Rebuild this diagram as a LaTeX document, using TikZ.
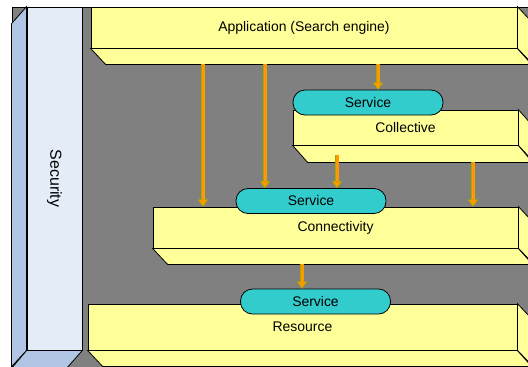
\documentclass[tikz,border=0pt]{standalone}
\usepackage{fontspec}
\setmainfont{Liberation Sans}
\usetikzlibrary{arrows.meta}

\definecolor{backgray}{HTML}{808080}
\definecolor{slabyellow}{HTML}{FFFF99}
\definecolor{serviceteal}{HTML}{33CCCC}
\definecolor{secfront}{HTML}{E4ECF8}
\definecolor{secside}{HTML}{B0C6E4}
\definecolor{feedorange}{HTML}{FF9900}
\definecolor{feededge}{HTML}{A8A800}

\tikzset{
  slab/.style={draw=black, line width=0.8bp, fill=slabyellow, inner sep=0pt},
  slabside/.style={draw=black, line width=0.8bp, fill=slabyellow},
  service/.style={draw=black, line width=0.8bp, fill=serviceteal, rounded corners=12bp,
    minimum width=150bp, minimum height=25bp, inner sep=0pt},
  feed/.style={draw=feedorange, line width=3bp,
    preaction={draw=feededge, line width=4.4bp},
    -{Triangle[length=7bp, width=10bp, fill=feedorange, color=feededge, line width=0.6bp]}}
}

\begin{document}
\begin{tikzpicture}[x=1bp, y=-1bp, font=\fontsize{14}{16}\selectfont]
  \useasboundingbox (0,0) rectangle (528,366);
  % grauer Hintergrund
  \filldraw[fill=backgray, draw=black, line width=0.8bp] (12,7) rectangle (540,380);

  % Security (Saeule links, Tiefe nach links unten)
  \node[draw=black, line width=0.8bp, fill=secfront, minimum width=55bp, minimum height=343bp,
    inner sep=0pt] (sec) at (54.5,178.5) {};
  \filldraw[fill=secside, draw=black, line width=0.8bp]
    (sec.north west) -- ++(-15,17) -- ++(0,343) -- (sec.south west) -- cycle;
  \filldraw[fill=secside, draw=black, line width=0.8bp]
    (sec.south west) -- (sec.south east) -- ++(-15,17) -- ++(-55,0) -- cycle;
  \node[rotate=-90, font=\fontsize{16}{18}\selectfont] (seclabel) at (sec.center) {Security};

  % Application
  \node[slab, minimum width=426bp, minimum height=41bp] (app) at (304,27.5) {Application (Search engine)};
  \filldraw[slabside] (app.south west) -- ++(15,16) -- ++(426,0) -- (app.south east) -- cycle;
  \filldraw[slabside] (app.north east) -- ++(15,16) -- ++(0,41) -- (app.south east) -- cycle;
  \coordinate (appbase) at ([yshift=-16bp]app.south);

  % Collective
  \node[slab, minimum width=225bp, minimum height=35bp] (coll) at (405.5,127.5) {Collective};
  \filldraw[slabside] (coll.south west) -- ++(15,17) -- ++(225,0) -- (coll.south east) -- cycle;
  \filldraw[slabside] (coll.north east) -- ++(15,17) -- ++(0,35) -- (coll.south east) -- cycle;
  \node[service] (svccoll) at (368,102.5) {Service};
  \coordinate (collmid) at ([yshift=-10bp]coll.south);
  \coordinate (collbase) at ([yshift=-17bp]coll.south);

  % Connectivity
  \node[slab, minimum width=365bp, minimum height=41bp] (conn) at (335.5,227.5) {Connectivity};
  \filldraw[slabside] (conn.south west) -- ++(15,16) -- ++(365,0) -- (conn.south east) -- cycle;
  \filldraw[slabside] (conn.north east) -- ++(15,16) -- ++(0,41) -- (conn.south east) -- cycle;
  \node[service] (svcconn) at (311,201) {Service};
  \coordinate (connbase) at ([yshift=-16bp]conn.south);

  % Resource
  \node[slab, minimum width=429bp, minimum height=46bp] (res) at (302.5,327) {Resource};
  \filldraw[slabside] (res.south west) -- ++(15,16) -- ++(429,0) -- (res.south east) -- cycle;
  \filldraw[slabside] (res.north east) -- ++(15,16) -- ++(0,46) -- (res.south east) -- cycle;
  \node[service] (svcres) at (315.5,301.5) {Service};

  % Pfeile
  \draw[feed] (appbase -| 203,0) -- (203,0 |- conn.north);
  \draw[feed] (appbase -| 265,0) -- (265,0 |- svcconn.north);
  \draw[feed] (appbase -| 378,0) -- (378,0 |- svccoll.north);
  \draw[feed] (collmid -| 337,0) -- (337,0 |- svcconn.north);
  \draw[feed] (collbase -| 473,0) -- (473,0 |- conn.north);
  \draw[feed] (connbase -| 302,0) -- (302,0 |- svcres.north);
\end{tikzpicture}
\end{document}
